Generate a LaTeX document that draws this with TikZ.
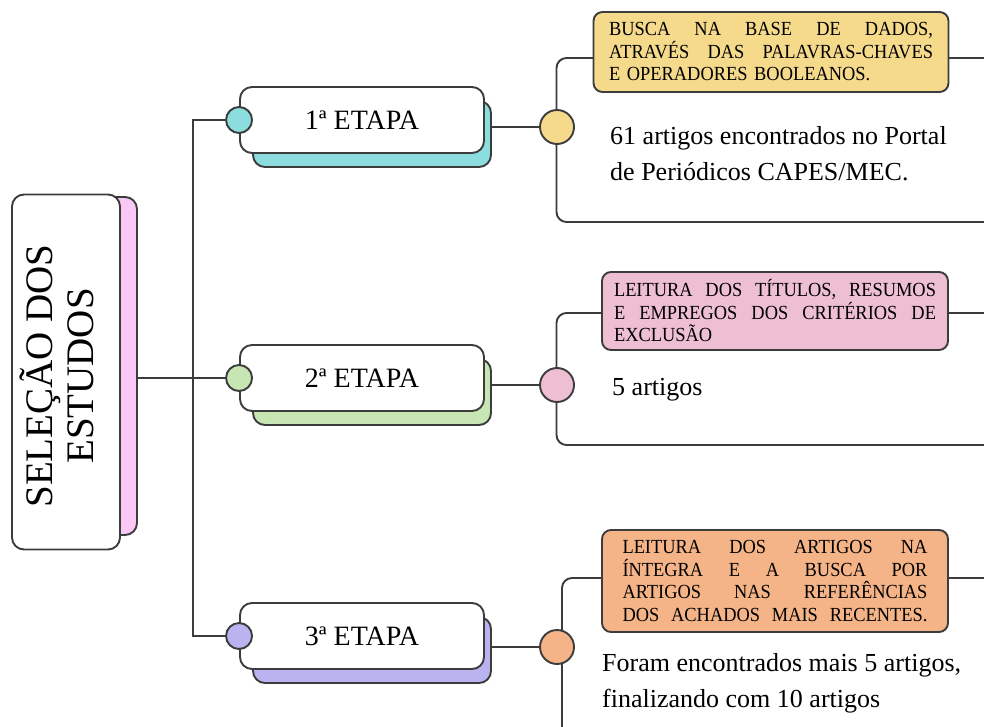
\documentclass[tikz,border=0pt]{standalone}
\usepackage{fontspec}
\setmainfont{Liberation Serif}
\newfontfamily\boxfont[FakeStretch=0.92]{Liberation Serif}
\usetikzlibrary{positioning, calc}
\definecolor{linegray}{HTML}{3C3C3C}
\definecolor{titlepink}{HTML}{FAC8F5}
\definecolor{etapacyan}{HTML}{8CDEDE}
\definecolor{etapagreen}{HTML}{C8E6B4}
\definecolor{etapapurple}{HTML}{B9B4F0}
\definecolor{boxyellow}{HTML}{F5DA8C}
\definecolor{boxpink}{HTML}{EEBED2}
\definecolor{boxorange}{HTML}{F5B487}
\newcommand{\fullline}[2]{\leavevmode\hbox to #1{#2}}
\tikzset{
  card/.style={rectangle, draw=linegray, line width=1.9pt, rounded corners=12pt, fill=white, minimum width=244pt, minimum height=66pt, font=\fontsize{28}{32}\selectfont},
  backcard/.style={rectangle, draw=linegray, line width=1.9pt, rounded corners=12pt, minimum width=238pt, minimum height=66pt},
  dot/.style={circle, draw=linegray, line width=1.9pt, minimum size=26pt, inner sep=0pt},
  bigdot/.style={dot, minimum size=34pt},
  infobox/.style={rectangle, draw=linegray, line width=1.9pt, rounded corners=9pt, align=left, font=\boxfont\fontsize{20}{22.5}\selectfont},
  panel/.style={rectangle, draw=linegray, line width=1.9pt, rounded corners=10pt},
  body/.style={anchor=west, align=left, inner sep=0pt, font=\fontsize{26}{36}\selectfont},
  link/.style={draw=linegray, line width=1.9pt}
}

\begin{document}
\begin{tikzpicture}[x=1pt, y=-1pt]
  \useasboundingbox (0,0) rectangle (984,727);
  \clip (0,0) rectangle (984,727);

  % Title
  \node[card, fill=titlepink, minimum width=338pt, minimum height=112pt, rotate=90] (tb) at (81,366) {};
  \node[card, minimum width=355pt, minimum height=108pt, rotate=90] (title) at (66,372) {};
  \node[rotate=90, align=center, font=\fontsize{39}{41}\selectfont] (titletext) at (57,376) {SELEÇÃO DOS\\ESTUDOS};

  % Panels
  \node[panel, minimum width=443pt, minimum height=164pt] (p1) at (778,140) {};
  \node[panel, minimum width=443pt, minimum height=132pt] (p2) at (778,379) {};
  \node[panel, minimum width=438pt, minimum height=182pt] (p3) at (781,669) {};

  % Info boxes
  \node[infobox, fill=boxyellow, text width=324pt, minimum width=355pt, minimum height=80pt] (b1) at (771,52)
    {\fullline{324pt}{BUSCA\hfill NA\hfill BASE\hfill DE\hfill DADOS,}\\
     \fullline{324pt}{ATRAVÉS\hfill DAS\hfill PALAVRAS-CHAVES}\\
     E OPERADORES BOOLEANOS.};
  \node[infobox, fill=boxpink, text width=322pt, minimum width=346pt, minimum height=78pt] (b2) at (775,311)
    {\fullline{322pt}{LEITURA\hfill DOS\hfill TÍTULOS,\hfill RESUMOS}\\
     \fullline{322pt}{E\hfill EMPREGOS\hfill DOS\hfill CRITÉRIOS\hfill DE}\\
     EXCLUSÃO};
  \node[infobox, fill=boxorange, text width=305pt, minimum width=346pt, minimum height=102pt] (b3) at (775,581)
    {\fullline{305pt}{LEITURA\hfill DOS\hfill ARTIGOS\hfill NA}\\
     \fullline{305pt}{ÍNTEGRA\hfill E\hfill A\hfill BUSCA\hfill POR}\\
     \fullline{305pt}{ARTIGOS\hfill NAS\hfill REFERÊNCIAS}\\
     \fullline{305pt}{DOS\hfill ACHADOS\hfill MAIS\hfill RECENTES.}};

  % Texts
  \node[body] (t1) at (610,154) {61 artigos encontrados no Portal\\de Periódicos CAPES/MEC.};
  \node[body] (t2) at (612,390) {5 artigos};
  \node[body] (t3) at (602,683) {Foram encontrados mais 5 artigos,\\finalizando com 10 artigos};

  % Etapas
  \node[backcard, fill=etapacyan] (e1b) at (372,134) {};
  \node[card] (e1) at (362,120) {1ª ETAPA};
  \node[backcard, fill=etapagreen] (e2b) at (372,392) {};
  \node[card] (e2) at (362,378) {2ª ETAPA};
  \node[backcard, fill=etapapurple] (e3b) at (372,650) {};
  \node[card] (e3) at (362,636) {3ª ETAPA};

  % Dots
  \node[dot, fill=etapacyan] (l1) at (e1.west) {};
  \node[dot, fill=etapagreen] (l2) at (e2.west) {};
  \node[dot, fill=etapapurple] (l3) at (e3.west) {};
  \node[bigdot, fill=boxyellow] (r1) at (557,127) {};
  \node[bigdot, fill=boxpink] (r2) at (557,385) {};
  \node[bigdot, fill=boxorange] (r3) at (557,647) {};

  % Connections
  \draw[link] (tb.south |- l2) -- (l2);
  \draw[link] (l1.west) -- ++(-32,0) |- (l3.west);
  \draw[link] (e1b.east |- r1) -- (r1);
  \draw[link] (e2b.east |- r2) -- (r2);
  \draw[link] (e3b.east |- r3) -- (r3);
\end{tikzpicture}
\end{document}
